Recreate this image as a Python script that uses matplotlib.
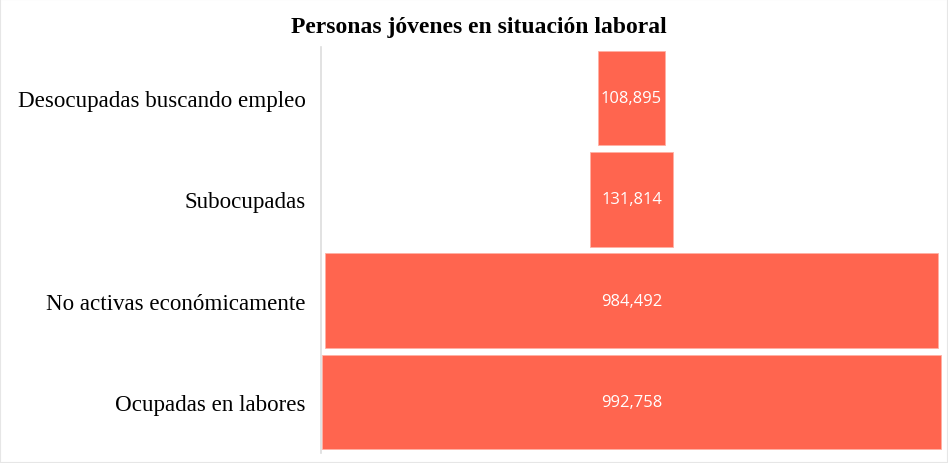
import matplotlib.pyplot as plt
import numpy as np
from matplotlib.patches import Rectangle

categories = [
    "Desocupadas buscando empleo",
    "Subocupadas",
    "No activas económicamente",
    "Ocupadas en labores",
]
values = [108895, 131814, 984492, 992758]
title = "Personas jóvenes en situación laboral"

bar_color = "#ff654f"

fig = plt.figure(figsize=(9.48, 4.64), dpi=100)
ax = fig.add_axes([0.3386, 0.0224, 0.6551, 0.8731])

y = np.arange(len(categories))
vals = np.array(values, dtype=float)
ax.barh(y, vals, left=-vals / 2, height=0.935, color=bar_color,
        edgecolor="#ffb0a4", linewidth=0.6)

for yi, v in zip(y, values):
    ax.text(0, yi, f"{v:,}", ha="center", va="center", color="white",
            fontsize=11.9, family="Open Sans")

half = max(values) / 2 * 621 / 619
ax.set_xlim(-half, half)
ax.set_ylim(len(categories) - 0.5, -0.5)
ax.set_yticks(y)
ax.set_yticklabels(categories, family="Liberation Serif", fontsize=16.6)
ax.tick_params(axis="y", length=0, pad=11)
ax.set_xticks([])
for s in ["top", "right", "bottom"]:
    ax.spines[s].set_visible(False)
ax.spines["left"].set_color("#dddddd")
ax.spines["left"].set_linewidth(1.2)

fig.text(0.505, 0.94, title, ha="center", va="center", fontsize=17,
         fontweight="bold", family="Liberation Serif")

fig.patches.append(Rectangle((0, 0), 1, 1, transform=fig.transFigure,
                             fill=False, edgecolor="#e6e6e6", linewidth=1.5))

fig.savefig("out.png", dpi=100)
